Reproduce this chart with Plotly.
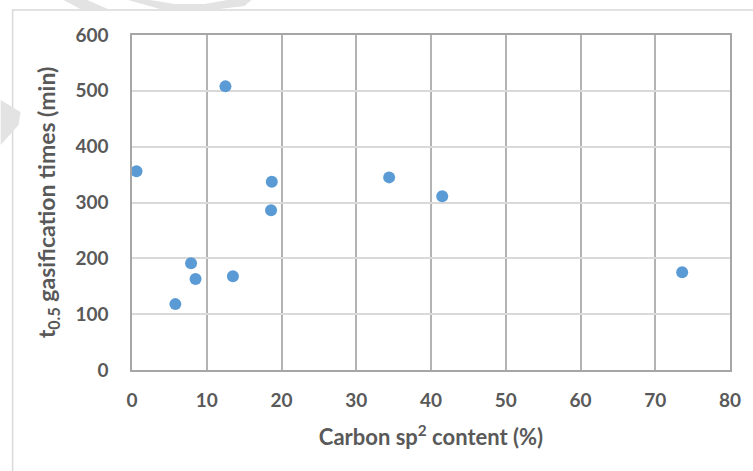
import plotly.graph_objects as go

sp2_content = [0.6, 12.5, 18.7, 18.6, 7.9, 8.5, 13.5, 5.8, 34.4, 41.5, 73.6]
t05_times = [356, 508, 337, 286, 191, 163, 168, 118, 345, 311, 175]

x_ticks = [0, 10, 20, 30, 40, 50, 60, 70, 80]
y_ticks = [0, 100, 200, 300, 400, 500, 600]

W, H = 753, 471
ML, MR, MT, MB = 132, 20, 35, 101

def px(x):
    return (x - ML) / (W - ML - MR)

def py(y):
    return (H - MB - y) / (H - MT - MB)

fig = go.Figure()
fig.add_trace(go.Scatter(
    x=sp2_content, y=t05_times, mode="markers",
    marker=dict(color="#5b9bd5", size=12),
    hoverinfo="x+y", showlegend=False,
))

tick_font = dict(family="Lato, Open Sans, sans-serif", color="#595959", size=19, weight="bold")
title_font = dict(family="Lato, Open Sans, sans-serif", color="#595959", size=22, weight="bold")
ytitle_font = dict(family="Lato, Open Sans, sans-serif", color="#595959", size=23, weight="bold")

shapes = []
# outer chart-area border
shapes.append(dict(type="rect", xref="paper", yref="paper",
                   x0=px(12), x1=px(770), y0=py(10), y1=py(490),
                   line=dict(color="#d9d9d9", width=1.5), layer="below"))
# faint watermark fragments
wm = "#e3e3e3"
def path(pts):
    return "M " + " L ".join(f"{px(a):.4f},{py(b):.4f}" for a, b in pts) + " Z"
shapes.append(dict(type="path", xref="paper", yref="paper", path=path([(63, 0), (87, 0), (110, 10), (82, 10)]),
                   fillcolor=wm, line=dict(width=0), layer="below"))
shapes.append(dict(type="path", xref="paper", yref="paper",
                   path=path([(128, 0), (150, 0), (175, 4), (205, 4), (228, 0), (252, 0), (245, 6), (220, 9), (160, 9)]),
                   fillcolor=wm, line=dict(width=0), layer="below"))
shapes.append(dict(type="path", xref="paper", yref="paper", path=path([(0, 100), (20, 112), (18, 125), (0, 145)]),
                   fillcolor=wm, line=dict(width=0), layer="below"))

fig.update_layout(
    width=W, height=H,
    margin=dict(l=ML, r=MR, t=MT, b=MB),
    paper_bgcolor="white", plot_bgcolor="white",
    shapes=shapes,
    xaxis=dict(
        range=[0, 80], tickvals=x_ticks, ticktext=[str(v) for v in x_ticks],
        showgrid=True, gridcolor="#b3b3b3", gridwidth=1.5,
        showline=True, linecolor="#a6a6a6", linewidth=1.5, mirror=True,
        zeroline=False, tickfont=tick_font, ticks="outside", ticklen=12, tickcolor="rgba(0,0,0,0)",
        title=dict(text="Carbon sp<sup>2</sup> content (%)", font=title_font, standoff=20),
    ),
    yaxis=dict(
        range=[0, 600], tickvals=y_ticks, ticktext=[str(v) for v in y_ticks],
        showgrid=True, gridcolor="#d9d9d9", gridwidth=1.5,
        showline=True, linecolor="#a6a6a6", linewidth=1.5, mirror=True,
        zeroline=False, tickfont=tick_font, ticks="outside", ticklen=18, tickcolor="rgba(0,0,0,0)",
        title=dict(text="t<sub>0.5</sub> gasification times (min)", font=ytitle_font, standoff=13),
    ),
)

fig.write_html("out.html")
